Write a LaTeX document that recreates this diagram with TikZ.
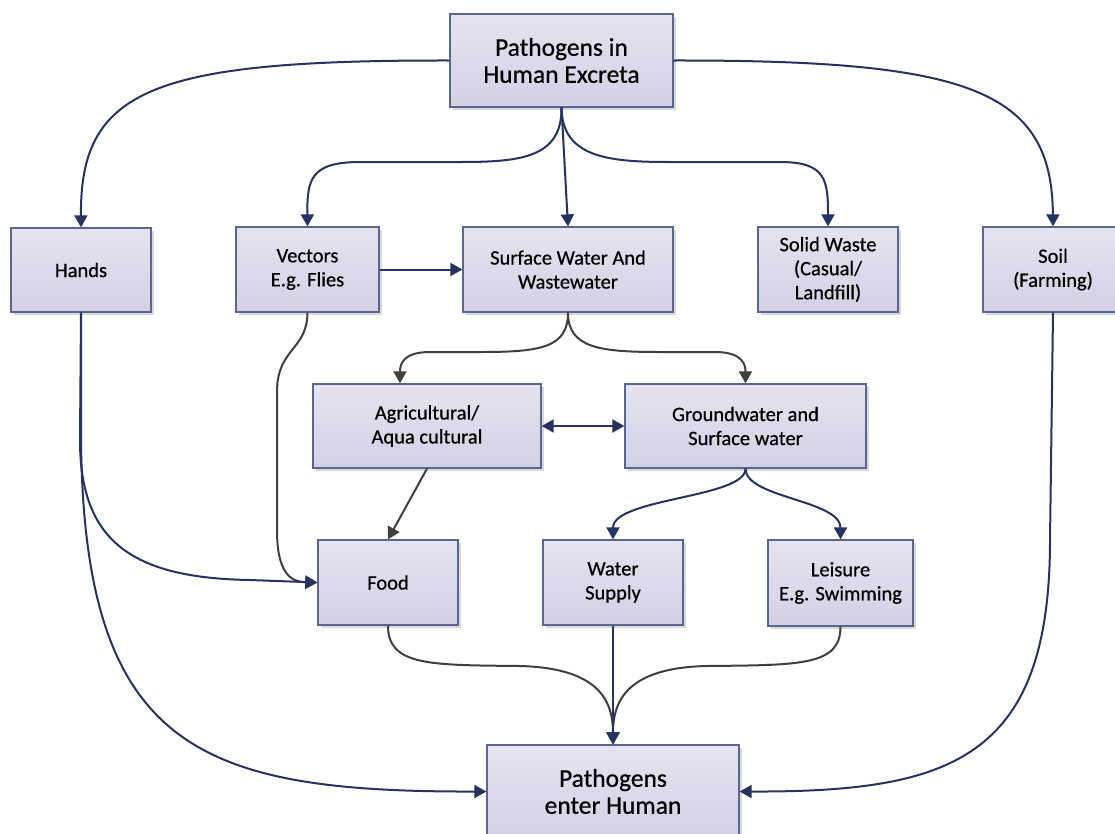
\documentclass[tikz,border=0pt]{standalone}
\usepackage{fontspec}
\setmainfont{Carlito}[FakeBold=0.6]
\usetikzlibrary{arrows.meta,shadows,calc}
\definecolor{navy}{HTML}{263262}
\definecolor{dgray}{HTML}{404040}
\definecolor{boxtop}{HTML}{E6E3F0}
\definecolor{boxbot}{HTML}{D5CFE4}
\definecolor{boxline}{HTML}{5A6590}
\tikzset{
  box/.style={draw=boxline, line width=1.3pt, top color=boxtop, bottom color=boxbot,
    align=center, font=\fontsize{20.5}{24}\selectfont, inner sep=0pt,
    drop shadow={shadow xshift=3pt, shadow yshift=-3pt, fill=black!15, opacity=1}},
  bigbox/.style={box, font=\fontsize{25.5}{27}\selectfont},
  nav/.style={draw=navy, line width=2pt, -{Triangle[length=12pt,width=13pt]}},
  gry/.style={draw=dgray, line width=2pt, -{Triangle[length=12pt,width=13pt]}},
}
\begin{document}
\begin{tikzpicture}[x=1pt,y=-1pt]
\useasboundingbox (0,0) rectangle (1115,833);
\fill[white] (0,0) rectangle (1115,833);
% nodes
\node[bigbox, minimum width=223pt, minimum height=93pt] (top) at (561.5,60.5) {Pathogens in\\Human Excreta};
\node[box, minimum width=140pt, minimum height=84pt] (hands) at (81,270) {Hands};
\node[box, minimum width=143pt, minimum height=85pt] (vectors) at (307.5,269.5) {Vectors\\E.g. Flies};
\node[box, minimum width=210pt, minimum height=85pt] (surf) at (568,269.5) {Surface Water And\\Wastewater};
\node[box, minimum width=140pt, minimum height=85pt] (solid) at (828,269.5) {Solid Waste\\(Casual/\\Landfill)};
\node[box, minimum width=140pt, minimum height=85pt] (soil) at (1053,269.5) {Soil\\(Farming)};
\node[box, minimum width=228pt, minimum height=84pt] (agri) at (427,426) {Agricultural/\\Aqua cultural};
\node[box, minimum width=241pt, minimum height=84pt] (ground) at (745.5,426) {Groundwater and\\Surface water};
\node[box, minimum width=140pt, minimum height=85pt] (food) at (388,582.5) {Food};
\node[box, minimum width=140pt, minimum height=85pt] (water) at (613,582.5) {Water\\Supply};
\node[box, minimum width=145pt, minimum height=86pt] (leisure) at (840.5,583) {Leisure\\E.g. Swimming};
\node[bigbox, minimum width=252pt, minimum height=93pt] (bottom) at (613,791.5) {Pathogens\\enter Human};
% top connectors
\draw[nav] (top.west) .. controls (150,60) and (80,90) .. (hands.north);
\draw[nav] (top.east) .. controls (970,60) and (1052,90) .. (soil.north);
\draw[nav] (top.south) .. controls (562,158) and (520,162) .. (460,162) -- (360,162) .. controls (310,162) and (307,180) .. (vectors.north);
\draw[nav] (top.south) -- (surf.north);
\draw[nav] (top.south) .. controls (562,158) and (610,162) .. (670,162) -- (780,162) .. controls (826,162) and (828,180) .. (solid.north);
\draw[nav] (vectors.east) -- (surf.west);
% surface water
\draw[gry] (surf.south) .. controls (568,348) and (540,352) .. (480,352) -- (430,352) .. controls (402,352) and (400,365) .. ([xshift=-27pt]agri.north);
\draw[gry] (surf.south) .. controls (568,348) and (600,352) .. (660,352) -- (715,352) .. controls (743,352) and (745.5,365) .. (ground.north);
\draw[navy, line width=2pt, {Triangle[length=12pt,width=13pt]}-{Triangle[length=12pt,width=13pt]}] (agri.east) -- (ground.west);
\draw[gry] (agri.south) -- (food.north);
% vectors to food
\draw[gry] (vectors.south) .. controls (307,350) and (278,348) .. (277,390) -- (277,530) .. controls (277,572) and (290,582) .. (food.west);
% hands
\draw[nav] (hands.south) -- (80,440) .. controls (80,540) and (130,578) .. (250,580) -- (food.west);
\draw[nav] (hands.south) -- (81,440) .. controls (84,750) and (200,792) .. (bottom.west);
% soil
\draw[nav] (soil.north |- soil.south) -- (1050,540) .. controls (1050,760) and (950,792) .. (bottom.east);
% groundwater
\draw[nav] (ground.south) .. controls (745.5,498) and (613,498) .. (water.north);
\draw[nav] (ground.south) .. controls (745.5,498) and (840.5,500) .. (leisure.north);
% to bottom
\draw[gry] (food.south) .. controls (388,666) and (430,665) .. (520,666) .. controls (598,668) and (613,700) .. (bottom.north);
\draw[gry] (leisure.south) .. controls (840.5,666) and (800,665) .. (706,666) .. controls (628,668) and (613,700) .. (bottom.north);
\draw[nav] (water.south) -- (bottom.north);
\end{tikzpicture}
\end{document}
